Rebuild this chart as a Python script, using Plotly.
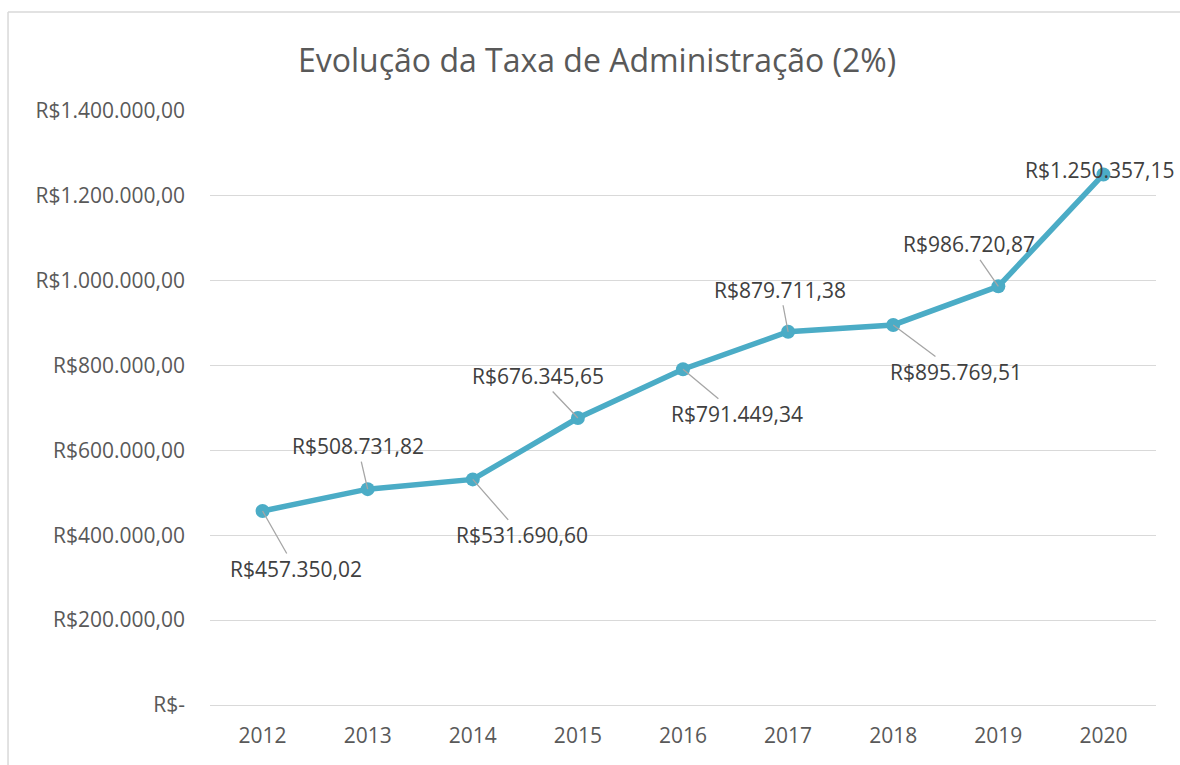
import plotly.graph_objects as go

years = ["2012", "2013", "2014", "2015", "2016", "2017", "2018", "2019", "2020"]
values = [457350.02, 508731.82, 531690.60, 676345.65, 791449.34, 879711.38, 895769.51, 986720.87, 1250357.15]
y_ticks = [0, 200000, 400000, 600000, 800000, 1000000, 1200000, 1400000]
title_text = "Evolução da Taxa de Administração (2%)"

# label offsets in pixels (text centre relative to point)
label_dx = [33, -10, 49, -40, 54, -8, 63, -29, -3]
label_dy = [58, -43, 56, -42, 45, -42, 47, -42, -4]
label_arrow = [True, True, True, True, True, True, True, True, False]


def brl(v):
    if v == 0:
        return "R$-"
    s = f"{v:,.2f}"
    s = s.replace(",", "X").replace(".", ",").replace("X", ".")
    return "R$" + s


FONT = "Open Sans"
LINE_COLOR = "#4BACC6"
GRID = "#D9D9D9"

fig = go.Figure()
fig.add_trace(go.Scatter(
    x=years, y=values, mode="lines+markers",
    line=dict(color=LINE_COLOR, width=5.5),
    marker=dict(color=LINE_COLOR, size=14),
    hoverinfo="skip", showlegend=False,
))

annotations = []
for i, (v, dx, dy, arr) in enumerate(zip(values, label_dx, label_dy, label_arrow)):
    a = dict(
        x=i, y=v, xref="x", yref="y", text=brl(v),
        font=dict(family=FONT, size=21, color="#404040"),
    )
    if arr:
        a.update(showarrow=True, arrowhead=0, arrowwidth=1.3, arrowcolor="#A6A6A6",
                 ax=dx, ay=dy, standoff=0)
    else:
        a.update(showarrow=False, xshift=dx, yshift=-dy)
    annotations.append(a)

annotations.append(dict(
    x=0.4086, y=1.0859, xref="paper", yref="paper", text=title_text,
    showarrow=False, xanchor="center", yanchor="middle",
    font=dict(family=FONT, size=32, color="#595959"),
))

fig.update_layout(
    width=1180, height=765,
    margin=dict(l=210, r=24, t=111, b=60),
    paper_bgcolor="white", plot_bgcolor="white",
    annotations=annotations,
    shapes=[
        dict(type="line", xref="paper", yref="paper",
             x0=-0.2135, x1=1.2, y0=1.1667, y1=1.1667,
             line=dict(color=GRID, width=1.5), layer="below"),
        dict(type="line", xref="paper", yref="paper",
             x0=-0.2135, x1=-0.2135, y0=-0.3, y1=1.1667,
             line=dict(color=GRID, width=1.5), layer="below"),
    ],
    font=dict(family=FONT, size=21, color="#595959"),
)
fig.update_xaxes(
    type="category", range=[-0.5, 8.5], showgrid=False,
    showline=True, linecolor=GRID, linewidth=1.3,
    ticks="", ticklabelstandoff=12,
    tickfont=dict(family=FONT, size=21, color="#595959"),
)
fig.update_yaxes(
    range=[0, 1400000], tickvals=y_ticks, ticktext=[brl(v) for v in y_ticks],
    showgrid=True, gridcolor=GRID, gridwidth=1.3, zeroline=False,
    ticks="", ticklabelstandoff=24,
    tickfont=dict(family=FONT, size=21, color="#595959"),
)

fig.write_html(
    "out.html",
    config={"displayModeBar": False},
    post_script="document.body.style.margin='0';document.body.style.overflow='hidden';",
)
